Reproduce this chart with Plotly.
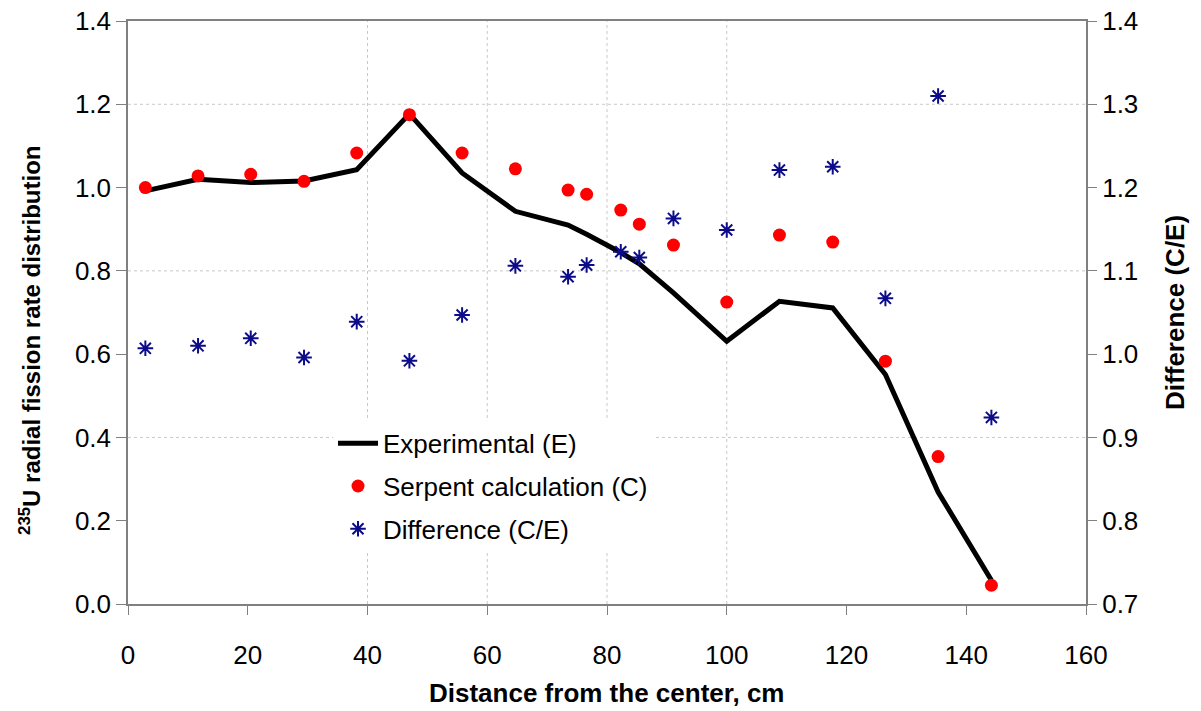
import plotly.graph_objects as go

# Data
distance = [2.9, 11.7, 20.5, 29.4, 38.2, 47.0, 55.8, 64.7, 73.5, 76.6, 82.3, 85.4,
            91.1, 100.0, 108.8, 117.7, 126.5, 135.3, 144.2]
experimental = [0.992, 1.020, 1.012, 1.016, 1.043, 1.177, 1.035, 0.943, 0.910, 0.888,
                0.844, 0.817, 0.747, 0.631, 0.727, 0.711, 0.551, 0.269, 0.057]
serpent = [1.000, 1.028, 1.032, 1.015, 1.083, 1.175, 1.083, 1.045, 0.994, 0.984,
           0.946, 0.912, 0.862, 0.725, 0.886, 0.869, 0.583, 0.354, 0.045]
difference = [1.007, 1.010, 1.019, 0.996, 1.039, 0.992, 1.047, 1.106, 1.093, 1.107,
              1.123, 1.116, 1.163, 1.149, 1.221, 1.225, 1.067, 1.310, 0.924]

x_ticks = [0, 20, 40, 60, 80, 100, 120, 140, 160]
y_left_ticks = [0.0, 0.2, 0.4, 0.6, 0.8, 1.0, 1.2, 1.4]
y_right_ticks = [0.7, 0.8, 0.9, 1.0, 1.1, 1.2, 1.3, 1.4]
x_grid = [40, 60, 80, 100]
y_grid = [0.4, 0.8, 1.2]

FONT = "Liberation Sans, Arial, sans-serif"
AXIS_COLOR = "#808080"
TICK_SIZE = 26

fig = go.Figure()

fig.add_trace(go.Scatter(
    x=distance, y=experimental, mode="lines", name="Experimental (E)",
    line=dict(color="black", width=5), legendgroup="e"))
fig.add_trace(go.Scatter(
    x=distance, y=serpent, mode="markers", name="Serpent calculation (C)",
    marker=dict(color="#ff0000", size=13, line=dict(width=0)), legendgroup="c"))
fig.add_trace(go.Scatter(
    x=distance, y=difference, mode="markers", name="Difference (C/E)", yaxis="y2",
    marker=dict(symbol="asterisk-open", color="#0c0c8a", size=13,
                line=dict(color="#0c0c8a", width=2)), legendgroup="d"))

shapes = []
for gx in x_grid:
    shapes.append(dict(type="line", xref="x", yref="paper", x0=gx, x1=gx, y0=0, y1=1,
                       line=dict(color="#c8c8c8", width=1, dash="dot"), layer="below"))
for gy in y_grid:
    shapes.append(dict(type="line", xref="paper", yref="y", x0=0, x1=1, y0=gy, y1=gy,
                       line=dict(color="#c8c8c8", width=1, dash="dot"), layer="below"))

annotations = [
    dict(text="<b>Distance from the center, cm</b>", xref="paper", yref="paper",
         x=0.499, y=-0.153, xanchor="center", yanchor="middle", showarrow=False,
         font=dict(size=26)),
    dict(text="<b><sup>235</sup>U radial fission rate distribution</b>", xref="paper",
         yref="paper", x=-0.1023, y=0.453, xanchor="center", yanchor="middle",
         textangle=-90, showarrow=False, font=dict(size=24)),
    dict(text="<b>Difference (C/E)</b>", xref="paper", yref="paper",
         x=1.0929, y=0.501, xanchor="center", yanchor="middle",
         textangle=-90, showarrow=False, font=dict(size=26)),
]

fig.update_layout(
    width=1201, height=711,
    margin=dict(l=128, r=115, t=21, b=107),
    paper_bgcolor="white", plot_bgcolor="white",
    font=dict(family=FONT, color="black", size=22),
    shapes=shapes,
    annotations=annotations,
    showlegend=True,
    legend=dict(x=0.214, y=0.316, xanchor="left", yanchor="top",
                bgcolor="white", borderwidth=0, font=dict(size=26, family=FONT),
                tracegroupgap=6, itemwidth=40),
    xaxis=dict(range=[0, 160], tickvals=x_ticks, ticktext=[str(v) for v in x_ticks],
               showgrid=False, zeroline=False, showline=True, linecolor=AXIS_COLOR,
               linewidth=1.5, mirror=True, ticks="outside", ticklen=9,
               tickcolor=AXIS_COLOR, tickfont=dict(size=TICK_SIZE),
               ticklabelstandoff=18, automargin=False),
    yaxis=dict(range=[0, 1.4], tickvals=y_left_ticks,
               ticktext=[f"{v:.1f}" for v in y_left_ticks],
               showgrid=False, zeroline=False, showline=True, linecolor=AXIS_COLOR,
               linewidth=1.5, mirror=True, ticks="outside", ticklen=10,
               tickcolor=AXIS_COLOR, tickfont=dict(size=TICK_SIZE), automargin=False),
    yaxis2=dict(range=[0.7, 1.4], tickvals=y_right_ticks,
                ticktext=[f"{v:.1f}" for v in y_right_ticks],
                overlaying="y", side="right", showgrid=False, zeroline=False,
                showline=False, ticks="outside", ticklen=10, tickcolor=AXIS_COLOR,
                tickfont=dict(size=TICK_SIZE), automargin=False),
)

fig.write_html("out.html", config={"displayModeBar": False},
               post_script="document.body.style.margin='0';document.body.style.padding='0';")
